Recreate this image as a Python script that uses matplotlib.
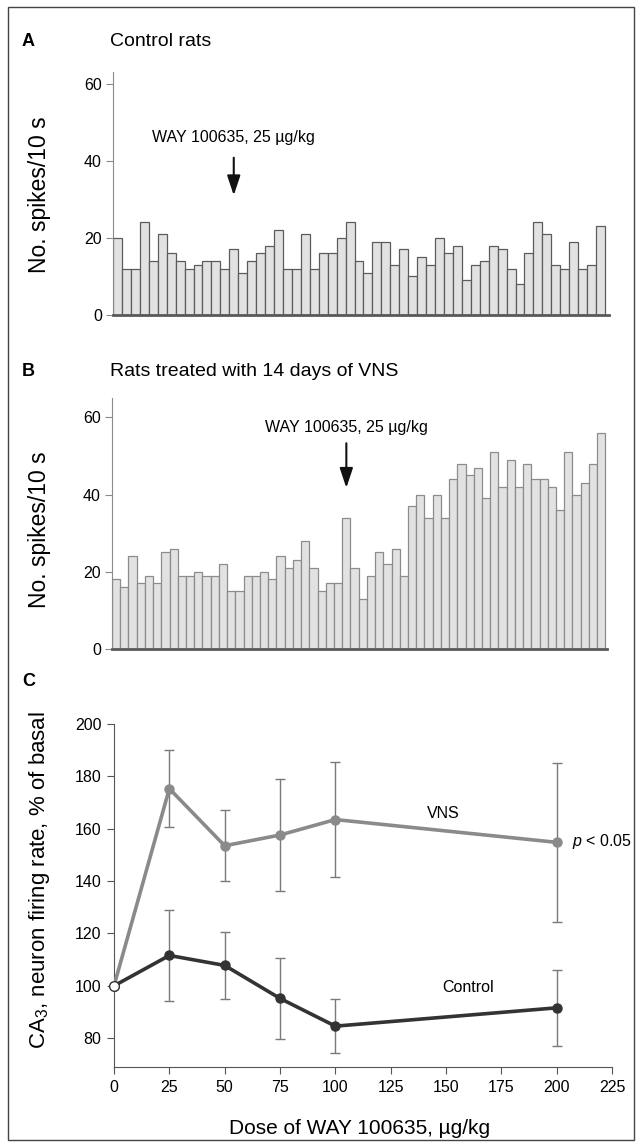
import numpy as np
import matplotlib
matplotlib.use('Agg')
import matplotlib.pyplot as plt
from matplotlib.patches import Rectangle

plt.rcParams['font.family'] = ['Liberation Sans', 'DejaVu Sans']
plt.rcParams['mathtext.fontset'] = 'custom'
plt.rcParams['mathtext.rm'] = 'Liberation Sans'
plt.rcParams['mathtext.it'] = 'Liberation Sans:italic'

# spikes per 10 s bin, control rats (panel A)
control_spikes = [20, 12, 12, 24, 14, 21, 16, 14, 12, 13, 14, 14, 12, 17, 11,
                  14, 16, 18, 22, 12, 12, 21, 12, 16, 16, 20, 24, 14, 11, 19,
                  19, 13, 17, 10, 15, 13, 20, 16, 18, 9, 13, 14, 18, 17, 12,
                  8, 16, 24, 21, 13, 12, 19, 12, 13, 23]
# spikes per 10 s bin, 14 days VNS (panel B)
vns_spikes = [18, 16, 24, 17, 19, 17, 25, 26, 19, 19, 20, 19, 19, 22, 15,
              15, 19, 19, 20, 18, 24, 21, 23, 28, 21, 15, 17, 17, 34, 21,
              13, 19, 25, 22, 26, 19, 37, 40, 34, 40, 34, 44, 48, 45, 47,
              39, 51, 42, 49, 42, 48, 44, 44, 42, 36, 51, 40, 43, 48, 56]
inject_bin_a = 13
inject_bin_b = 28

# dose response (panel C)
doses = [0, 25, 50, 75, 100, 200]
vns_mean = [100, 175.3, 153.5, 157.6, 163.5, 154.8]
vns_err = [0, 14.8, 13.6, 21.5, 21.8, 30.4]
ctrl_mean = [100, 111.6, 107.8, 95.2, 84.6, 91.6]
ctrl_err = [0, 17.3, 12.8, 15.5, 10.4, 14.5]

W, H = 642, 1147
fig = plt.figure(figsize=(W / 100, H / 100), dpi=100)


def rect(l, t, r, b):
    return [l / W, 1 - b / H, (r - l) / W, (b - t) / H]


def ftext(x, y, s, **kw):
    return fig.text(x / W, 1 - y / H, s, **kw)


fig.patches.append(Rectangle((8 / W, 7 / H), (634 - 8) / W, (1140 - 7) / H,
                             transform=fig.transFigure, fill=False,
                             ec='#444444', lw=1))

spine_c = '#8a8a8a'
tick_fs = 11.5


def bar_panel(pos, vals, xmax, ymax, edge):
    ax = fig.add_axes(pos)
    ax.bar(np.arange(len(vals)), vals, width=1, align='edge',
           color='#e2e2e2', edgecolor=edge, linewidth=0.9)
    ax.set_xlim(0, xmax)
    ax.set_ylim(0, ymax)
    for s in ['top', 'right']:
        ax.spines[s].set_visible(False)
    ax.spines['left'].set_color(spine_c)
    ax.spines['bottom'].set_color('#5a5a5a')
    ax.spines['bottom'].set_linewidth(2)
    ax.set_xticks([])
    ax.set_yticks([0, 20, 40, 60])
    ax.tick_params(axis='y', length=5, color=spine_c, labelsize=tick_fs, pad=3)
    return ax


arrow_style = dict(arrowstyle='-|>,head_width=0.4,head_length=1.2',
                   color='#111111', lw=1.5)

axA = bar_panel(rect(113, 72, 609, 315), control_spikes, 55.45, 63, '#5c5c5c')
axA.annotate('', xy=(inject_bin_a + 0.5, 30.3), xytext=(inject_bin_a + 0.5, 41.5),
             arrowprops=arrow_style)
axA.text(inject_bin_a + 0.5, 46, 'WAY 100635, 25 µg/kg', ha='center',
         va='center', fontsize=11.5)

axB = bar_panel(rect(112, 398, 607, 649), vns_spikes, 60.2, 65, '#8c8c8c')
axB.annotate('', xy=(inject_bin_b + 0.5, 41), xytext=(inject_bin_b + 0.5, 54),
             arrowprops=arrow_style)
axB.text(inject_bin_b + 0.5, 57.3, 'WAY 100635, 25 µg/kg', ha='center',
         va='center', fontsize=11.5)

# panel letters, titles, axis labels
ftext(22, 42, 'A', fontsize=13, fontweight='bold', va='center')
ftext(110, 42, 'Control rats', fontsize=14, va='center')
ftext(22, 372, 'B', fontsize=13, fontweight='bold', va='center')
ftext(110, 372, 'Rats treated with 14 days of VNS', fontsize=14, va='center')
ftext(22, 682, 'C', fontsize=13, fontweight='bold', va='center')
ftext(40, 195, 'No. spikes/10 s', fontsize=16.5, rotation=90,
      ha='center', va='center')
ftext(40, 530, 'No. spikes/10 s', fontsize=16.5, rotation=90,
      ha='center', va='center')
ftext(40, 880, 'CA$_3$, neuron firing rate, % of basal', fontsize=16,
      rotation=90, ha='center', va='center')
ftext(360, 1128, 'Dose of WAY 100635, µg/kg', fontsize=15,
      ha='center', va='center')

# panel C
axC = fig.add_axes(rect(114, 724, 612, 1067))
axC.errorbar(doses[1:], vns_mean[1:], yerr=vns_err[1:], fmt='none',
             ecolor='#7a7a7a', elinewidth=1, capsize=3.5, capthick=1, zorder=1)
axC.errorbar(doses[1:], ctrl_mean[1:], yerr=ctrl_err[1:], fmt='none',
             ecolor='#7a7a7a', elinewidth=1, capsize=3.5, capthick=1, zorder=1)
axC.plot(doses, vns_mean, color='#8a8a8a', lw=2.6, marker='o', ms=6.5,
         mfc='#8a8a8a', mec='#8a8a8a', zorder=3)
axC.plot(doses, ctrl_mean, color='#333333', lw=2.6, marker='o', ms=6.5,
         mfc='#333333', mec='#333333', zorder=4)
axC.plot([doses[0]], [ctrl_mean[0]], marker='o', ms=7, mfc='white',
         mec='#333333', mew=1, zorder=5, clip_on=False)
axC.set_xlim(0, 225)
axC.set_ylim(69, 200)
axC.set_xticks(np.arange(0, 226, 25))
axC.set_yticks(np.arange(80, 201, 20))
for s in ['top', 'right']:
    axC.spines[s].set_visible(False)
for s in ['left', 'bottom']:
    axC.spines[s].set_color('#555555')
axC.tick_params(length=5, color='#555555', labelsize=tick_fs, pad=4)
axC.text(148.7, 166, 'VNS', fontsize=11.5, ha='center', va='center')
axC.text(160, 99.5, 'Control', fontsize=11.5, ha='center', va='center')
axC.text(207, 155, '$p$ < 0.05', fontsize=11.5, ha='left', va='center')

fig.savefig('out.png', dpi=100)
